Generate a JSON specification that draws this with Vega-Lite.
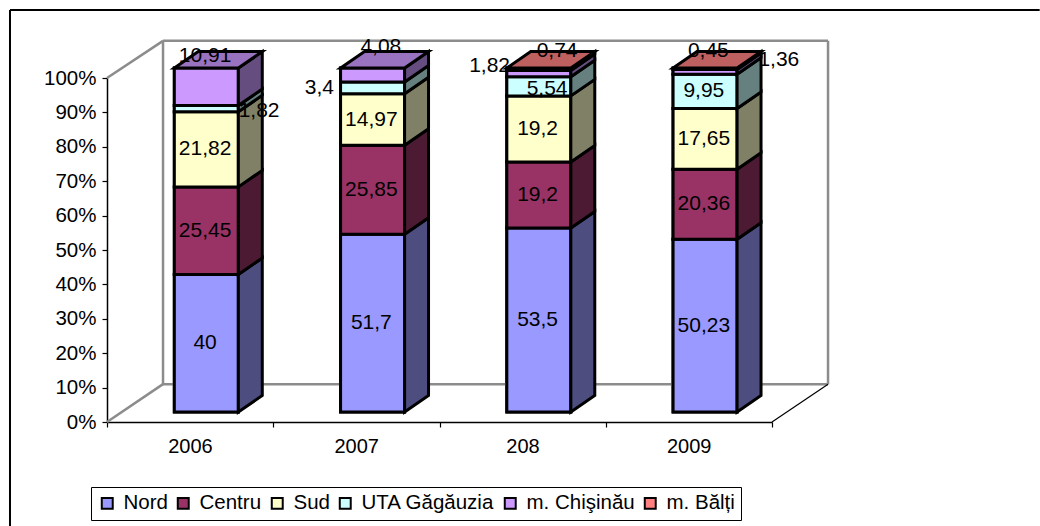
{
"$schema":"https://vega.github.io/schema/vega-lite/v6.json",
"width":665,"height":344,
"autosize":{"type":"none"},
"padding":{"left":107,"top":78,"right":268,"bottom":104},
"background":"white",
"config":{"view":{"stroke":null},"font":"Liberation Sans"},
"data":{"values":[
{"year":"2006","series":"Nord","value":40},
{"year":"2006","series":"Centru","value":25.45},
{"year":"2006","series":"Sud","value":21.82},
{"year":"2006","series":"UTA Găgăuzia","value":1.82},
{"year":"2006","series":"m. Chişinău","value":10.91},
{"year":"2007","series":"Nord","value":51.7},
{"year":"2007","series":"Centru","value":25.85},
{"year":"2007","series":"Sud","value":14.97},
{"year":"2007","series":"UTA Găgăuzia","value":3.4},
{"year":"2007","series":"m. Chişinău","value":4.08},
{"year":"208","series":"Nord","value":53.5},
{"year":"208","series":"Centru","value":19.2},
{"year":"208","series":"Sud","value":19.2},
{"year":"208","series":"UTA Găgăuzia","value":5.54},
{"year":"208","series":"m. Chişinău","value":1.82},
{"year":"208","series":"m. Bălți","value":0.74},
{"year":"2009","series":"Nord","value":50.23},
{"year":"2009","series":"Centru","value":20.36},
{"year":"2009","series":"Sud","value":17.65},
{"year":"2009","series":"UTA Găgăuzia","value":9.95},
{"year":"2009","series":"m. Chişinău","value":1.36},
{"year":"2009","series":"m. Bălți","value":0.45}
]},
"transform":[
{"calculate":"indexof(['2006','2007','208','2009'],datum.year)","as":"i"},
{"calculate":"indexof(['Nord','Centru','Sud','UTA Găgăuzia','m. Chişinău','m. Bălți'],datum.series)","as":"so"},
{"stack":"value","groupby":["year"],"sort":[{"field":"so","order":"ascending"}],"as":["s0","s1"]},
{"calculate":"datum.i+0.405","as":"xl"},
{"calculate":"datum.i+0.79","as":"xr"},
{"calculate":"datum.s0+2.9","as":"yb"},
{"calculate":"datum.s1+2.9","as":"yt"}
],
"layer":[
{
"mark":{"type":"rect","stroke":"#000000","strokeWidth":3,"opacity":1},
"encoding":{
"x":{"field":"xl","type":"quantitative","title":null,"scale":{"domain":[0,4],"nice":false,"zero":false},
"axis":{"values":[0,1,2,3,4],"grid":false,"domainColor":"#000000","domainWidth":1.5,"tickColor":"#000000","tickWidth":1.2,"tickSize":5,"labelExpr":"['2006','2007','208','2009',''][datum.value]","labelOffset":83,"labelFontSize":20,"labelColor":"#000000","labelPadding":9,"labelAlign":"center","labelFlush":false,"labelBound":false,"labelOverlap":false}},
"x2":{"field":"xr"},
"y":{"field":"yb","type":"quantitative","title":null,"scale":{"domain":[0,100],"nice":false,"zero":false},
"axis":{"values":[0,10,20,30,40,50,60,70,80,90,100],"tickCount":11,"grid":false,"domainColor":"#000000","domainWidth":1.5,"tickColor":"#000000","tickWidth":1.2,"tickSize":5,"labelExpr":"datum.value+'%'","labelFontSize":20.5,"labelColor":"#000000","labelPadding":6,"labelFlush":false,"labelBound":false,"labelOverlap":false}},
"y2":{"field":"yt"},
"color":{"field":"series","type":"nominal","scale":{"domain":["Nord","Centru","Sud","UTA Găgăuzia","m. Chişinău","m. Bălți"],"range":["#9999FF","#993366","#FFFFCC","#CCFFFF","#CC99FF","#FF8080"]},
"legend":{"title":null,"orient":"none","legendX":-16,"legendY":409,"direction":"horizontal","columns":6,"symbolType":"square","symbolSize":120,"symbolStrokeColor":"#000000","symbolStrokeWidth":2,"symbolOpacity":1,"labelFontSize":20.5,"labelColor":"#000000","labelLimit":300,"labelOffset":6,"columnPadding":5,"fillColor":"#FFFFFF","strokeColor":"#000000","padding":6}}
}},
{"data":{"values":[{}]},"mark":{"type":"rule","stroke":"#000000","strokeWidth":2},"encoding":{"x":{"datum":-0.5835,"type":"quantitative"},"x2":{"datum":5.61},"y":{"datum":119.8,"type":"quantitative"},"y2":{"datum":119.8}}},
{"data":{"values":[{}]},"mark":{"type":"rule","stroke":"#000000","strokeWidth":2},"encoding":{"x":{"datum":-0.5835,"type":"quantitative"},"x2":{"datum":-0.5835},"y":{"datum":119.8,"type":"quantitative"},"y2":{"datum":-31}}},
{"data":{"values":[{}]},"mark":{"type":"rule","stroke":"#8c8c8c","strokeWidth":2.5},"encoding":{"x":{"datum":0,"type":"quantitative"},"x2":{"datum":0.337},"y":{"datum":100,"type":"quantitative"},"y2":{"datum":110.8}}},
{"data":{"values":[{}]},"mark":{"type":"rule","stroke":"#8c8c8c","strokeWidth":2.5},"encoding":{"x":{"datum":0.337,"type":"quantitative"},"x2":{"datum":4.337},"y":{"datum":110.8,"type":"quantitative"},"y2":{"datum":110.8}}},
{"data":{"values":[{}]},"mark":{"type":"rule","stroke":"#8c8c8c","strokeWidth":2.5},"encoding":{"x":{"datum":0.337,"type":"quantitative"},"x2":{"datum":0.337},"y":{"datum":110.8,"type":"quantitative"},"y2":{"datum":11}}},
{"data":{"values":[{}]},"mark":{"type":"rule","stroke":"#8c8c8c","strokeWidth":2.5},"encoding":{"x":{"datum":4.337,"type":"quantitative"},"x2":{"datum":4.337},"y":{"datum":110.8,"type":"quantitative"},"y2":{"datum":11}}},
{"data":{"values":[{}]},"mark":{"type":"rule","stroke":"#8c8c8c","strokeWidth":2.5},"encoding":{"x":{"datum":0.337,"type":"quantitative"},"x2":{"datum":4.337},"y":{"datum":11,"type":"quantitative"},"y2":{"datum":11}}},
{"data":{"values":[{}]},"mark":{"type":"rule","stroke":"#8c8c8c","strokeWidth":2.5},"encoding":{"x":{"datum":0,"type":"quantitative"},"x2":{"datum":0.337},"y":{"datum":0,"type":"quantitative"},"y2":{"datum":11}}},
{"data":{"values":[{}]},"mark":{"type":"rule","stroke":"#000000","strokeWidth":1.2},"encoding":{"x":{"datum":4,"type":"quantitative"},"x2":{"datum":4.337},"y":{"datum":0,"type":"quantitative"},"y2":{"datum":11}}},
{
"mark":{"type":"rect","stroke":"#000000","strokeWidth":3,"opacity":1},
"encoding":{
"x":{"field":"xl","type":"quantitative"},
"x2":{"field":"xr"},
"y":{"field":"yb","type":"quantitative"},
"y2":{"field":"yt"},
"color":{"field":"series","type":"nominal","legend":null,"scale":{"domain":["Nord","Centru","Sud","UTA Găgăuzia","m. Chişinău","m. Bălți"],"range":["#9999FF","#993366","#FFFFCC","#CCFFFF","#CC99FF","#FF8080"]}}
}},
{
"transform":[
{"calculate":"[0,1]","as":"t"},{"flatten":["t"]},
{"calculate":"datum.xr+datum.t*0.144","as":"sx"},
{"calculate":"datum.yb+datum.t*4.8","as":"sy0"},
{"calculate":"datum.yt+datum.t*4.8","as":"sy1"}
],
"mark":{"type":"area","stroke":"#000000","strokeWidth":3,"opacity":1},
"encoding":{
"x":{"field":"sx","type":"quantitative"},
"y":{"field":"sy0","type":"quantitative","stack":null},
"y2":{"field":"sy1"},
"detail":{"field":"year"},
"color":{"field":"series","type":"nominal","legend":null,"scale":{"domain":["Nord","Centru","Sud","UTA Găgăuzia","m. Chişinău","m. Bălți"],"range":["#4D4D80","#4D1A33","#808066","#668080","#664D80","#804040"]}}
}},
{
"transform":[
{"filter":"datum.s1>99.99"},
{"calculate":"[0,1,2,3]","as":"t"},{"flatten":["t"]},
{"calculate":"datum.t==0?datum.xl:datum.t==1?datum.xl+0.144:datum.t==2?datum.xr:datum.xr+0.144","as":"tx"},
{"calculate":"datum.t==3?102.9+4.8:102.9","as":"ty0"},
{"calculate":"datum.t==0?102.9:102.9+4.8","as":"ty1"}
],
"mark":{"type":"area","stroke":"#000000","strokeWidth":3,"opacity":1},
"encoding":{
"x":{"field":"tx","type":"quantitative"},
"y":{"field":"ty0","type":"quantitative","stack":null},
"y2":{"field":"ty1"},
"detail":{"field":"year"},
"color":{"field":"series","type":"nominal","legend":null,"scale":{"domain":["m. Chişinău","m. Bălți"],"range":["#9973BF","#BF6060"]}}
}},
{
"transform":[
{"calculate":"replace(toString(datum.value),'.',',')","as":"label"},
{"calculate":"datum.year+'|'+datum.so","as":"k"},
{"calculate":"({'2006|3':54,'2007|3':-52,'2007|4':9.5,'208|3':9.5,'208|4':-48,'208|5':19.5,'2009|4':75,'2009|5':4.5})[datum.k]||0","as":"ldx"},
{"calculate":"({'2006|3':2,'2006|4':-31,'2007|4':-28,'208|3':3,'208|4':-8,'208|5':-18,'2009|4':-12,'2009|5':-18})[datum.k]||0","as":"ldy"},
{"calculate":"datum.i+0.59+datum.ldx/166.25","as":"lx"},
{"calculate":"(datum.yb+datum.yt)/2-datum.ldy/3.44","as":"ly"}
],
"mark":{"type":"text","fontSize":21,"fill":"#000000","baseline":"middle","align":"center"},
"encoding":{
"x":{"field":"lx","type":"quantitative"},
"y":{"field":"ly","type":"quantitative"},
"text":{"field":"label","type":"nominal"}
}}
],
"resolve":{"scale":{"color":"independent"}}
}
